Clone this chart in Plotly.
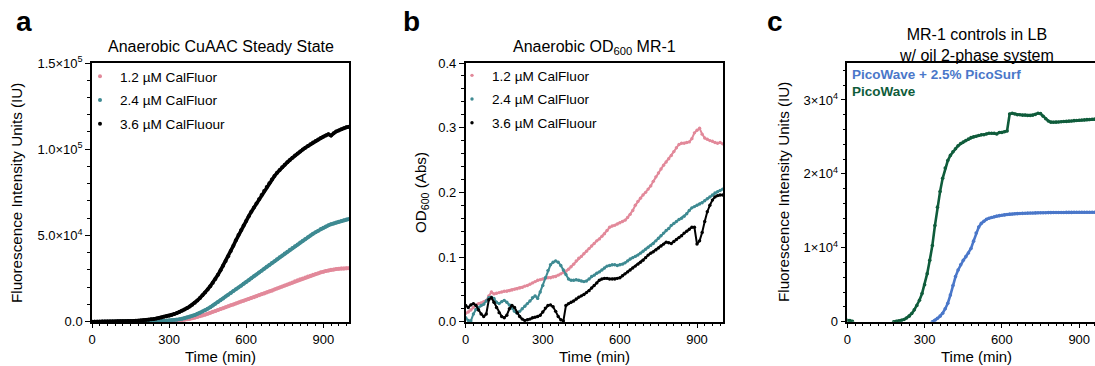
import plotly.graph_objects as go

W, H = 1095, 366
F = "Liberation Sans, Arial, sans-serif"

# ---------------- data ----------------
time_min = list(range(0, 1001, 10))

# Panel a: Anaerobic CuAAC steady state (fluorescence, IU)
a_labels = ["1.2 µM CalFluor", "2.4 µM CalFluor", "3.6 µM CalFluour"]
a_pink = [0, 0, 0, 0, 0, 0, 0, 0, 20, 30,
          40, 50, 60, 70, 80, 90, 100, 110, 120, 130,
          140, 150, 170, 190, 210, 240, 270, 300, 340, 380,
          430, 500, 580, 670, 780, 900, 1100, 1350, 1650, 1950,
          2300, 2700, 3150, 3600, 4100, 4600, 5150, 5700, 6200, 6750,
          7300, 7850, 8400, 8950, 9500, 10000, 10550, 11100, 11650, 12150,
          12700, 13200, 13700, 14200, 14750, 15300, 15850, 16400, 16900, 17450,
          18000, 18600, 19200, 19800, 20400, 21000, 21600, 22200, 22800, 23400,
          24000, 24550, 25100, 25650, 26200, 26700, 27200, 27700, 28150, 28600,
          29000, 29400, 29750, 30050, 30300, 30500, 30650, 30800, 30900, 30950,
          31000]
a_teal = [0, 0, 0, 0, 0, 0, 0, 20, 30, 40,
          50, 60, 70, 80, 90, 100, 110, 130, 150, 170,
          190, 210, 240, 270, 310, 350, 400, 460, 530, 610,
          700, 850, 1000, 1200, 1450, 1700, 2050, 2450, 2900, 3400,
          3900, 4550, 5200, 5900, 6700, 7500, 8400, 9400, 10400, 11400,
          12400, 13500, 14600, 15600, 16700, 17800, 18800, 19900, 20900, 22000,
          23000, 24100, 25200, 26300, 27400, 28500, 29600, 30700, 31800, 32900,
          34000, 35100, 36200, 37300, 38400, 39500, 40600, 41700, 42700, 43800,
          44800, 45900, 46900, 48000, 49000, 50000, 51000, 51900, 52800, 53700,
          54500, 55200, 55900, 56500, 57000, 57500, 58000, 58400, 58800, 59200,
          59500]
a_black = [0, 0, 0, 0, 50, 80, 100, 120, 150, 180,
           200, 230, 260, 300, 340, 400, 460, 530, 620, 720,
           850, 1000, 1150, 1350, 1600, 1900, 2200, 2500, 2800, 3100,
           3400, 3900, 4400, 5000, 5600, 6300, 7100, 7900, 8800, 9800,
           11000, 12300, 13800, 15300, 16900, 18700, 20600, 22600, 24800, 27200,
           29800, 32500, 35200, 38000, 41000, 44000, 47200, 50200, 53000, 55800,
           58400, 61200, 63800, 66200, 68500, 71000, 73400, 75800, 78100, 80300,
           82500, 84500, 86300, 88000, 89600, 91000, 92400, 93800, 95100, 96300,
           97500, 98700, 99800, 100900, 101900, 102900, 103900, 104800, 105700, 106500,
           107300, 108000, 108700, 107900, 109200, 110300, 110900, 111600, 112200, 112700,
           113000]

# Panel b: Anaerobic OD600 MR-1 (Abs)
b_pink = [0.013, 0.015, 0.018, 0.022, 0.026, 0.028, 0.029, 0.031, 0.033, 0.040,
          0.046, 0.043, 0.044, 0.045, 0.046, 0.047, 0.047, 0.048, 0.049, 0.050,
          0.051, 0.052, 0.053, 0.055, 0.056, 0.058, 0.060, 0.062, 0.064, 0.065,
          0.066, 0.067, 0.068, 0.068, 0.069, 0.070, 0.072, 0.074, 0.076, 0.078,
          0.081, 0.085, 0.089, 0.094, 0.098, 0.101, 0.105, 0.109, 0.113, 0.117,
          0.121, 0.125, 0.128, 0.132, 0.136, 0.141, 0.146, 0.148, 0.149, 0.151,
          0.153, 0.155, 0.157, 0.161, 0.166, 0.172, 0.180, 0.186, 0.191, 0.196,
          0.200, 0.205, 0.210, 0.217, 0.224, 0.230, 0.236, 0.242, 0.247, 0.252,
          0.257, 0.263, 0.269, 0.274, 0.276, 0.276, 0.277, 0.278, 0.283, 0.292,
          0.296, 0.299, 0.290, 0.284, 0.282, 0.280, 0.279, 0.277, 0.276, 0.277,
          0.275]
b_teal = [0.006, 0.002, 0.001, 0.012, 0.019, 0.022, 0.025, 0.027, 0.032, 0.037,
          0.038, 0.036, 0.030, 0.028, 0.031, 0.033, 0.030, 0.026, 0.021, 0.016,
          0.013, 0.016, 0.020, 0.024, 0.028, 0.032, 0.037, 0.040, 0.036, 0.046,
          0.056, 0.068, 0.079, 0.088, 0.092, 0.094, 0.092, 0.087, 0.080, 0.073,
          0.066, 0.064, 0.064, 0.065, 0.064, 0.063, 0.062, 0.063, 0.066, 0.070,
          0.072, 0.075, 0.077, 0.080, 0.083, 0.086, 0.087, 0.088, 0.088, 0.087,
          0.088, 0.089, 0.091, 0.094, 0.097, 0.099, 0.101, 0.103, 0.106, 0.109,
          0.112, 0.115, 0.118, 0.121, 0.125, 0.129, 0.133, 0.137, 0.141, 0.144,
          0.149, 0.152, 0.155, 0.158, 0.160, 0.163, 0.167, 0.172, 0.176, 0.178,
          0.180, 0.182, 0.184, 0.187, 0.190, 0.193, 0.196, 0.199, 0.201, 0.203,
          0.205]
b_black = [0.025, 0.022, 0.026, 0.028, 0.025, 0.018, 0.012, 0.008, 0.012, 0.034,
           0.037, 0.030, 0.022, 0.014, 0.008, 0.006, 0.010, 0.020, 0.025, 0.022,
           0.014, 0.008, 0.004, 0.002, 0.003, 0.004, 0.006, 0.007, 0.008, 0.010,
           0.015, 0.021, 0.025, 0.026, 0.023, 0.016, 0.008, 0.003, 0.001, 0.025,
           0.028, 0.030, 0.032, 0.035, 0.038, 0.040, 0.042, 0.045, 0.048, 0.052,
           0.056, 0.060, 0.064, 0.066, 0.067, 0.067, 0.066, 0.066, 0.066, 0.067,
           0.068, 0.071, 0.074, 0.077, 0.080, 0.083, 0.086, 0.089, 0.092, 0.095,
           0.099, 0.103, 0.106, 0.108, 0.111, 0.114, 0.117, 0.120, 0.123, 0.122,
           0.121, 0.124, 0.127, 0.130, 0.133, 0.137, 0.140, 0.143, 0.146, 0.146,
           0.120, 0.125, 0.138, 0.155, 0.170, 0.180, 0.188, 0.193, 0.195, 0.196,
           0.196]

# Panel c: MR-1 controls in LB w/ oil 2-phase system (fluorescence, IU)
c_labels = ["PicoWave + 2.5% PicoSurf", "PicoWave"]
N = None
c_green = [200, 150, 50, N, N, N, N, N, N, N,
           N, N, N, N, N, N, N, N, 0, 50,
           100, 180, 300, 500, 750, 1100, 1600, 2200, 2900, 3800,
           5000, 6500, 8300, 10300, 13000, 15500, 17600, 19400, 20800, 21800,
           22500, 23000, 23400, 23800, 24100, 24300, 24500, 24700, 24900, 25000,
           25100, 25200, 25300, 25300, 25400, 25500, 25500, 25500, 25400, 25600,
           25600, 25700, 25800, 28100, 28200, 28100, 28000, 28000, 27950, 27950,
           27900, 27900, 27950, 28050, 28200, 28150, 27800, 27450, 27150, 27000,
           26980, 27000, 27020, 27050, 27080, 27100, 27130, 27160, 27200, 27230,
           27260, 27290, 27310, 27340, 27360, 27380, 27400, 27400, 27420, 27430,
           27440]
c_blue = [N, N, N, N, N, N, N, N, N, N,
          N, N, N, N, N, N, N, N, N, N,
          N, N, N, N, N, N, N, N, N, N,
          N, N, N, 0, 200, 450, 750, 1150, 1750, 2500,
          3600, 4900, 6100, 7000, 7700, 8300, 8800, 9300, 9900, 10900,
          12000, 12800, 13300, 13600, 13850, 14000, 14100, 14200, 14300, 14350,
          14400, 14450, 14500, 14550, 14580, 14600, 14620, 14640, 14660, 14680,
          14690, 14700, 14710, 14720, 14730, 14740, 14750, 14750, 14760, 14760,
          14770, 14770, 14780, 14780, 14780, 14790, 14790, 14790, 14800, 14800,
          14800, 14800, 14800, 14800, 14800, 14800, 14800, 14800, 14800, 14800,
          14800]

x_ticks = [0, 300, 600, 900]
a_yticks = [0, 50000, 100000, 150000]
a_yticktext = ["0.0", "5.0×10<sup>4</sup>", "1.0×10<sup>5</sup>", "1.5×10<sup>5</sup>"]
b_yticks = [0.0, 0.1, 0.2, 0.3, 0.4]
b_yticktext = ["0.0", "0.1", "0.2", "0.3", "0.4"]
c_yticks = [0, 10000, 20000, 30000]
c_yticktext = ["0", "1×10<sup>4</sup>", "2×10<sup>4</sup>", "3×10<sup>4</sup>"]

PINK = "#e2899a"
TEAL = "#3e8a92"
BLACK = "#000000"
GREEN = "#0f5c3b"
BLUE = "#4a77c9"

# ---------------- figure ----------------
def px(x):
    return x / W

def py(y):
    return 1 - y / H

fig = go.Figure()

def add_series(vals, col, lab, xa, ya, leg, msize, lwidth, clip):
    # continuous trace of the dense dots (no legend entry)
    fig.add_trace(go.Scatter(x=time_min, y=vals, mode="lines",
                             line=dict(color=col, width=lwidth),
                             xaxis=xa, yaxis=ya, showlegend=False,
                             hoverinfo="skip", cliponaxis=clip))
    # the dots themselves
    fig.add_trace(go.Scatter(x=time_min, y=vals, mode="markers", name=lab,
                             marker=dict(size=msize, color=col, line=dict(width=0)),
                             xaxis=xa, yaxis=ya,
                             legend=leg if leg else "legend",
                             showlegend=bool(leg),
                             legendgroup=xa + lab, cliponaxis=clip))

for vals, col, lab in zip([a_pink, a_teal, a_black], [PINK, TEAL, BLACK], a_labels):
    add_series(vals, col, lab, "x", "y", "legend", 4.0, 3.6, False)
for vals, col, lab in zip([b_pink, b_teal, b_black], [PINK, TEAL, BLACK], a_labels):
    add_series(vals, col, lab, "x2", "y2", "legend2", 3.4, 2.0, False)
for vals, col, lab in zip([c_green, c_blue], [GREEN, BLUE], ["PicoWave", "PicoWave + 2.5% PicoSurf"]):
    add_series(vals, col, lab, "x3", "y3", None, 3.6, 2.6, True)

ydom = [py(321.7), py(63)]

def xax(domain, rng, mirror=True):
    return dict(domain=domain, range=rng, tickmode="array", tickvals=x_ticks,
                ticks="outside", ticklen=5, tickwidth=1.2, tickcolor="black",
                showline=True, linewidth=1.5, linecolor="black", mirror=mirror,
                showgrid=False, zeroline=False, automargin=False,
                tickfont=dict(size=13, family=F, color="black"),
                minor=dict(ticks="outside", ticklen=3, tickwidth=1, tickcolor="black",
                           tickmode="linear", tick0=0, dtick=30, showgrid=False))

def yax(anchor, rng, tv, tt, mdt, mirror=True):
    return dict(domain=ydom, range=rng, anchor=anchor, tickmode="array",
                tickvals=tv, ticktext=tt,
                ticks="outside", ticklen=5, tickwidth=1.2, tickcolor="black",
                showline=True, linewidth=1.5, linecolor="black", mirror=mirror,
                showgrid=False, zeroline=False, automargin=False,
                tickfont=dict(size=13, family=F, color="black"),
                minor=dict(ticks="outside", ticklen=3, tickwidth=1, tickcolor="black",
                           tickmode="linear", tick0=0, dtick=mdt, showgrid=False))

c_xmax = (W - 847.3) / 0.2577

fig.update_layout(
    width=W, height=H, template="none",
    margin=dict(l=0, r=0, t=0, b=0, pad=0),
    paper_bgcolor="white", plot_bgcolor="white",
    font=dict(family=F, size=13, color="black"),
    xaxis=dict(xax([px(92), px(349)], [0, 1000]), anchor="y"),
    yaxis=yax("x", [0, 150000], a_yticks, a_yticktext, 10000),
    xaxis2=dict(xax([px(465.7), px(722.7)], [0, 1000]), anchor="y2"),
    yaxis2=yax("x2", [0, 0.4], b_yticks, b_yticktext, 0.02),
    xaxis3=dict(xax([px(847.3), 1.0], [0, c_xmax]), anchor="y3"),
    yaxis3=yax("x3", [0, 35000], c_yticks, c_yticktext, 2000, mirror=False),
    legend=dict(x=px(80), y=py(61), xanchor="left", yanchor="top",
                font=dict(size=13.6, family=F), bgcolor="rgba(0,0,0,0)",
                tracegroupgap=3, traceorder="grouped", itemwidth=30),
    legend2=dict(x=px(452), y=py(60), xanchor="left", yanchor="top",
                 font=dict(size=13.6, family=F), bgcolor="rgba(0,0,0,0)",
                 tracegroupgap=3, traceorder="grouped", itemwidth=30),
)

def ann(text, x, y, size, xanchor="center", angle=0, color="black"):
    return dict(text=text, x=px(x), y=py(y), xref="paper", yref="paper",
                showarrow=False, xanchor=xanchor, yanchor="middle", textangle=angle,
                font=dict(size=size, family=F, color=color))

anns = [
    ann("<b>a</b>", 23.5, 22, 28),
    ann("<b>b</b>", 411, 22, 28),
    ann("<b>c</b>", 775, 22, 28),
    ann("Anaerobic CuAAC Steady State", 220.5, 46.5, 16),
    ann("Anaerobic OD<sub>600</sub> MR-1", 594, 47, 16),
    ann("MR-1 controls in LB<br>w/ oil 2-phase system", 976, 45, 16),
    ann("Time (min)", 220.5, 356.5, 15),
    ann("Time (min)", 594, 356.5, 15),
    ann("Time (min)", 976, 356.5, 15),
    ann("Fluorescence Intensity Units (IU)", 16, 193, 15.2, angle=-90),
    ann("OD<sub>600</sub> (Abs)", 421, 193, 15.2, angle=-90),
    ann("Fluorescence Intensity Units (IU)", 783, 192, 15.2, angle=-90),
    ann("<b>" + c_labels[0] + "</b>", 850, 74.5, 13.5, xanchor="left", color=BLUE),
    ann("<b>" + c_labels[1] + "</b>", 850, 91.5, 13.5, xanchor="left", color=GREEN),
]
fig.update_layout(annotations=anns)

fig.write_html("out.html")
